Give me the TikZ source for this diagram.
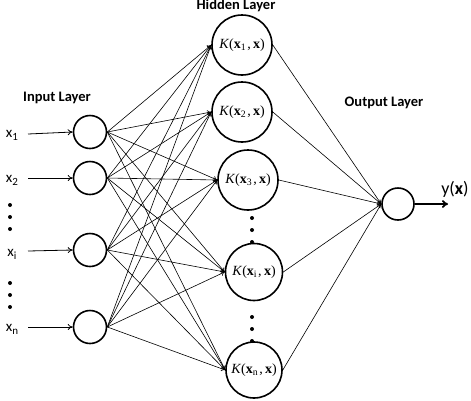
\documentclass[tikz,border=0pt]{standalone}
\usepackage{fontspec}
\setmainfont{Carlito}
\newfontfamily\kfont{Liberation Serif}
\usetikzlibrary{arrows.meta}
\begin{document}
\begin{tikzpicture}[x=1pt,y=-1pt,
  inp/.style={circle, draw, line width=1.6pt, minimum size=33pt, inner sep=0pt},
  hid/.style={circle, draw, line width=1.6pt, minimum size=#1, inner sep=0pt,
              font=\kfont\fontsize{14}{14}\selectfont},
  conn/.style={line width=0.6pt, -{To[length=4pt,width=5pt]}},
  lbl/.style={font=\bfseries\fontsize{14.5}{15}\selectfont},
  xlbl/.style={font=\fontsize{15}{15}\selectfont},
  dotm/.style={circle, fill, inner sep=0pt, minimum size=4pt}]
\useasboundingbox (0,0) rectangle (471,400);
% input layer
\node[inp] (i1) at (90,132) {};
\node[inp] (i2) at (90,178) {};
\node[inp] (ii) at (90,250) {};
\node[inp] (in) at (90,327) {};
% hidden layer
\node[hid=60pt] (h1) at (242,45) {\textit{K}(\textbf{x}\textsubscript{1}\kern1pt,\,\textbf{x})};
\node[hid=60pt] (h2) at (242,112) {\textit{K}(\textbf{x}\textsubscript{2}\kern1pt,\,\textbf{x})};
\node[hid=60pt] (h3) at (248,180) {\textit{K}(\textbf{x}\textsubscript{3}\kern1pt,\,\textbf{x})};
\node[hid=57pt] (hi) at (254,272) {\textit{K}(\textbf{x}\textsubscript{i}\kern1pt,\,\textbf{x})};
\node[hid=56pt] (hn) at (254,370) {\textit{K}(\textbf{x}\textsubscript{n}\kern1pt,\,\textbf{x})};
% output
\node[inp, minimum size=32pt] (o) at (398,204) {};
% labels
\node[lbl] (tin) at (57,98) {Input Layer};
\node[lbl] (thid) at (236,6) {Hidden Layer};
\node[lbl] (tout) at (384,103) {Output Layer};
\node[xlbl] (l1) at (12,135) {x\raisebox{-0.4ex}{\fontsize{11}{11}\selectfont 1}};
\node[xlbl] (l2) at (12,180) {x\raisebox{-0.4ex}{\fontsize{11}{11}\selectfont 2}};
\node[xlbl] (li) at (12,254) {x\raisebox{-0.4ex}{\fontsize{11}{11}\selectfont i}};
\node[xlbl] (ln) at (12,329) {x\raisebox{-0.4ex}{\fontsize{11}{11}\selectfont n}};
\node[font=\fontsize{18}{18}\selectfont] (ty) at (455,189) {y(\textbf{x})};
% input arrows
\foreach \n/\y in {i1/134, i2/178, ii/251, in/327}{
  \coordinate (s\n) at (28,\y);
  \draw[line width=0.8pt, -{To[length=5pt,width=6pt]}] (s\n) -- (\n.west);
}
% dots
\foreach \y [count=\k] in {205,217,229,283,295,307}{
  \node[dotm] (dl\k) at (10,\y) {};
}
\foreach \y [count=\k] in {218,230,242,317,329,341}{
  \node[dotm] (dh\k) at (252,\y) {};
}
% connections input -> hidden
\foreach \a in {i1,i2,ii,in}{
  \foreach \b in {h1,h2,h3,hi,hn}{
    \draw[conn] (\a.east) -- (\b.west);
  }
}
% hidden -> output
\foreach \b in {h1,h2,h3,hi,hn}{
  \draw[conn] (\b.east) -- (o.west);
}
\coordinate (oe) at (448,204);
\draw[line width=1.8pt, -{To[length=6pt,width=8pt]}] (o.east) -- (oe);
\end{tikzpicture}
\end{document}
